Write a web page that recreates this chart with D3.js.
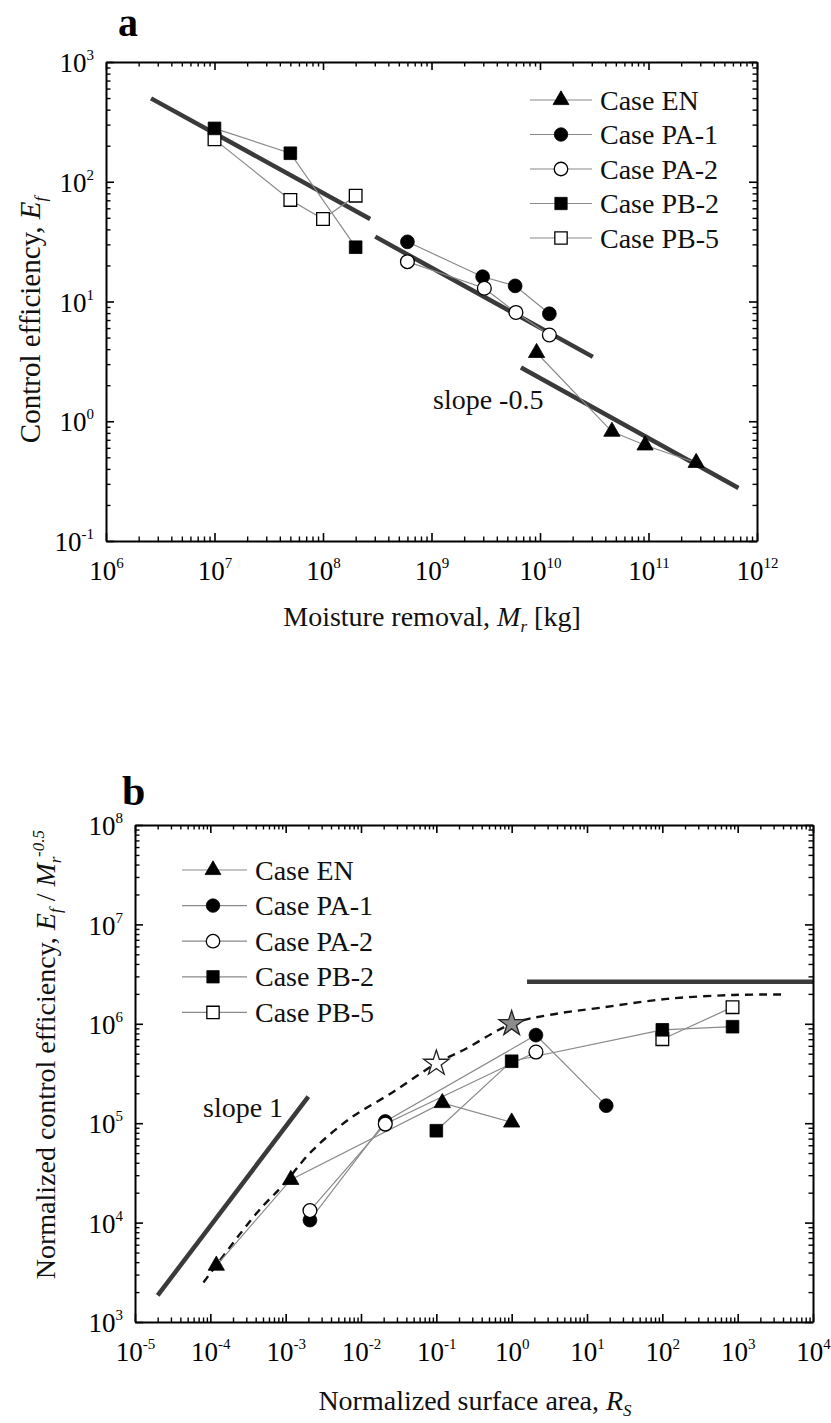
<!DOCTYPE html>
<html><head><meta charset="utf-8">
<script src="https://cdn.jsdelivr.net/npm/d3@7"></script>
<style>body{margin:0;background:#fff}</style>
</head><body>
<svg id="c" width="831" height="1423"></svg>
<script>
// ---------------- DATA ----------------
// Panel a: Control efficiency vs moisture removal
const aXExp = [6, 7, 8, 9, 10, 11, 12];
const aYExp = [-1, 0, 1, 2, 3];
const aEN_x  = [9.3e9, 4.6e10, 9.3e10, 2.75e11];
const aEN_y  = [3.73, 0.82, 0.63, 0.45];
const aPA1_x = [6.0e8, 2.96e9, 5.9e9, 1.22e10];
const aPA1_y = [31.5, 16.1, 13.5, 7.9];
const aPA2_x = [6.0e8, 3.07e9, 6.0e9, 1.22e10];
const aPA2_y = [21.5, 12.9, 8.1, 5.25];
const aPB2_x = [1e7, 5e7, 2e8];
const aPB2_y = [279, 173, 28.4];
const aPB5_x = [1e7, 5e7, 1e8, 2e8];
const aPB5_y = [226, 70.5, 48.9, 76.5];
const aFit1 = [[2.6e6, 497], [2.72e8, 48.9]];
const aFit2 = [[3.03e8, 34.8], [3.07e10, 3.45]];
const aFit3 = [[6.67e9, 2.81], [6.75e11, 0.277]];

// Panel b: Normalized control efficiency vs normalized surface area
const bXExp = [-5, -4, -3, -2, -1, 0, 1, 2, 3, 4];
const bYExp = [3, 4, 5, 6, 7, 8];
const bEN_x  = [1.2e-4, 1.17e-3, 0.12, 1.0];
const bEN_y  = [3.7e3, 2.7e4, 1.6e5, 1.02e5];
const bPA1_x = [2.1e-3, 0.021, 2.1, 18];
const bPA1_y = [1.06e4, 1.04e5, 7.7e5, 1.5e5];
const bPA2_x = [2.1e-3, 0.021, 2.1];
const bPA2_y = [1.32e4, 9.8e4, 5.2e5];
const bPB2_x = [0.1, 1.0, 100, 855];
const bPB2_y = [8.4e4, 4.2e5, 8.7e5, 9.35e5];
const bPB5_x = [100, 855];
const bPB5_y = [7.0e5, 1.47e6];
const bStarOpen = [0.1, 4.0e5];
const bStarGray = [1.0, 1.0e6];
const bSlope1 = [[2e-5, 1.85e3], [2e-3, 1.85e5]];
const bPlateau = [[1.6, 2.65e6], [1e4, 2.65e6]];
const bDash_x = [8.1e-5, 4.1e-4, 9.3e-4, 2.2e-3, 7.2e-3, 0.027, 0.1, 0.23, 1.0, 3.2, 15, 115, 880, 4500];
const bDash_y = [2.5e3, 1.24e4, 2.4e4, 5.2e4, 1.12e5, 2.07e5, 4.0e5, 5.45e5, 1.0e6, 1.23e6, 1.45e6, 1.78e6, 1.95e6, 1.97e6];

const seriesNames = ["Case EN", "Case PA-1", "Case PA-2", "Case PB-2", "Case PB-5"];

// ---------------- STYLE ----------------
const FONT = "'Liberation Serif','Times New Roman',serif";
const symType = [d3.symbolTriangle, d3.symbolCircle, d3.symbolCircle, d3.symbolSquare, d3.symbolSquare];
const symSize = [115, 150, 150, 160, 160];
const symFilled = [true, true, false, true, false];
const drawOrder = [0, 1, 2, 4, 3];
const LINE_GRAY = "#8a8a8a";
const FIT_COL = "#3a3a3a";

const svg = d3.select("#c");
svg.append("rect").attr("width", 831).attr("height", 1423).attr("fill", "#fff");

function zip(xs, ys) { return xs.map((v, i) => [v, ys[i]]); }
function minorTicks(lo, hi) {
  const t = [];
  for (let e = lo; e < hi; e++) for (let k = 2; k <= 9; k++) t.push(k * Math.pow(10, e));
  return t;
}
function supLabels(g) {
  g.selectAll(".tick text").each(function (d) {
    const e = Math.round(Math.log10(d));
    const t = d3.select(this);
    t.text(null);
    t.append("tspan").text("10");
    t.append("tspan").attr("font-size", 15).attr("dy", -12).text(String(e));
  });
}

function drawAxes(x, y, xExp, yExp) {
  const [x0, x1] = x.range();
  const [y0, y1] = y.range();
  const majX = xExp.map(e => Math.pow(10, e));
  const majY = yExp.map(e => Math.pow(10, e));
  const minX = minorTicks(xExp[0], xExp[xExp.length - 1]);
  const minY = minorTicks(yExp[0], yExp[yExp.length - 1]);
  const defs = [
    {f: d3.axisBottom, s: x, tr: `translate(0,${y0})`, maj: majX, min: minX, lab: true, isX: true},
    {f: d3.axisTop, s: x, tr: `translate(0,${y1})`, maj: majX, min: minX, lab: false},
    {f: d3.axisLeft, s: y, tr: `translate(${x0},0)`, maj: majY, min: minY, lab: true, isX: false},
    {f: d3.axisRight, s: y, tr: `translate(${x1},0)`, maj: majY, min: minY, lab: false}
  ];
  defs.forEach(d => {
    const gm = svg.append("g").attr("transform", d.tr)
      .call(d.f(d.s).tickValues(d.min).tickSizeInner(-4.5).tickSizeOuter(0).tickFormat(""));
    gm.select(".domain").remove();
    gm.selectAll(".tick line").attr("stroke", "#000").attr("stroke-width", 1.4);
    const g = svg.append("g").attr("transform", d.tr)
      .call(d.f(d.s).tickValues(d.maj).tickSizeInner(-8).tickSizeOuter(0)
        .tickFormat(d.lab ? (v => String(v)) : ""));
    g.attr("font-family", FONT).attr("font-size", 27);
    g.select(".domain").attr("stroke", "#000").attr("stroke-width", 2);
    g.selectAll(".tick line").attr("stroke", "#000").attr("stroke-width", 1.6);
    if (d.lab) {
      g.selectAll(".tick text").attr("fill", "#000");
      if (d.isX) g.selectAll(".tick text").attr("y", 39).attr("dy", null);
      else g.selectAll(".tick text").attr("x", -12).attr("dy", "0.36em");
      supLabels(g);
    }
  });
}

function drawSeries(x, y, data) {
  const line = d3.line().x(d => x(d[0])).y(d => y(d[1]));
  data.forEach(s => {
    svg.append("path").attr("d", line(s)).attr("fill", "none")
      .attr("stroke", LINE_GRAY).attr("stroke-width", 1.2);
  });
  drawOrder.forEach(i => {
    svg.append("g").selectAll("path").data(data[i]).join("path")
      .attr("transform", d => `translate(${x(d[0])},${y(d[1])})`)
      .attr("d", d3.symbol().type(symType[i]).size(symSize[i]))
      .attr("fill", symFilled[i] ? "#000" : "#fff")
      .attr("stroke", "#000").attr("stroke-width", symFilled[i] ? 0.8 : 1.3);
  });
}

function drawFit(x, y, seg, w) {
  svg.append("line")
    .attr("x1", x(seg[0][0])).attr("y1", y(seg[0][1]))
    .attr("x2", x(seg[1][0])).attr("y2", y(seg[1][1]))
    .attr("stroke", FIT_COL).attr("stroke-width", w || 4.5).attr("stroke-linecap", "butt");
}

function drawLegend(lx0, lx1, mx, tx, y0, dy) {
  seriesNames.forEach((name, i) => {
    const yy = y0 + i * dy;
    svg.append("line").attr("x1", lx0).attr("x2", lx1).attr("y1", yy).attr("y2", yy)
      .attr("stroke", LINE_GRAY).attr("stroke-width", 1.2);
    svg.append("path").attr("transform", `translate(${mx},${yy})`)
      .attr("d", d3.symbol().type(symType[i]).size(symSize[i] * 0.95))
      .attr("fill", symFilled[i] ? "#000" : "#fff")
      .attr("stroke", "#000").attr("stroke-width", symFilled[i] ? 0.8 : 1.3);
    svg.append("text").attr("x", tx).attr("y", yy + 9.5)
      .attr("font-family", FONT).attr("font-size", 28).attr("fill", "#111").text(name);
  });
}

// ---------------- PANEL A ----------------
const xA = d3.scaleLog().domain([1e6, 1e12]).range([106, 757]);
const yA = d3.scaleLog().domain([0.1, 1000]).range([541, 62]);

[aFit1, aFit2, aFit3].forEach(s => drawFit(xA, yA, s));
drawSeries(xA, yA, [zip(aEN_x, aEN_y), zip(aPA1_x, aPA1_y), zip(aPA2_x, aPA2_y), zip(aPB2_x, aPB2_y), zip(aPB5_x, aPB5_y)]);
drawAxes(xA, yA, aXExp, aYExp);
drawLegend(530, 592, 561, 600, 100, 34.5);

svg.append("text").attr("x", 118).attr("y", 36).attr("font-family", FONT)
  .attr("font-weight", "bold").attr("font-size", 40).text("a");
svg.append("text").attr("x", 433).attr("y", 409).attr("font-family", FONT)
  .attr("font-size", 28).attr("fill", "#111").text("slope -0.5");

{
  const t = svg.append("text").attr("x", 432).attr("y", 626).attr("text-anchor", "middle")
    .attr("font-family", FONT).attr("font-size", 28).attr("fill", "#111");
  t.append("tspan").text("Moisture removal, ");
  t.append("tspan").attr("font-style", "italic").text("M");
  t.append("tspan").attr("font-style", "italic").attr("font-size", 17).attr("dy", 6).text("r");
  t.append("tspan").attr("dy", -6).text(" [kg]");
  const ty = svg.append("text").attr("transform", "translate(40,320) rotate(-90)")
    .attr("text-anchor", "middle").attr("font-family", FONT).attr("font-size", 29).attr("fill", "#111");
  ty.append("tspan").text("Control efficiency, ");
  ty.append("tspan").attr("font-style", "italic").text("E");
  ty.append("tspan").attr("font-style", "italic").attr("font-size", 17).attr("dy", 6).text("f");
}

// ---------------- PANEL B ----------------
const xB = d3.scaleLog().domain([1e-5, 1e4]).range([135, 813]);
const yB = d3.scaleLog().domain([1e3, 1e8]).range([1322, 825]);

drawFit(xB, yB, bSlope1);
drawFit(xB, yB, bPlateau);
svg.append("path")
  .attr("d", d3.line().curve(d3.curveCatmullRom.alpha(0.5)).x(d => xB(d[0])).y(d => yB(d[1]))(zip(bDash_x, bDash_y)))
  .attr("fill", "none").attr("stroke", "#111").attr("stroke-width", 2.4).attr("stroke-dasharray", "8,6");
drawSeries(xB, yB, [zip(bEN_x, bEN_y), zip(bPA1_x, bPA1_y), zip(bPA2_x, bPA2_y), zip(bPB2_x, bPB2_y), zip(bPB5_x, bPB5_y)]);
[[bStarOpen, "#fff"], [bStarGray, "#8c8c8c"]].forEach(([p, fill]) => {
  svg.append("path").attr("transform", `translate(${xB(p[0])},${yB(p[1])})`)
    .attr("d", d3.symbol().type(d3.symbolStar).size(200))
    .attr("fill", fill).attr("stroke", "#222").attr("stroke-width", 1.3);
});
drawAxes(xB, yB, bXExp, bYExp);
drawLegend(182, 247, 213, 255, 870, 35.6);

svg.append("text").attr("x", 122).attr("y", 805).attr("font-family", FONT)
  .attr("font-weight", "bold").attr("font-size", 42).text("b");
svg.append("text").attr("x", 203).attr("y", 1117).attr("font-family", FONT)
  .attr("font-size", 28).attr("fill", "#111").text("slope 1");

{
  const t = svg.append("text").attr("x", 475).attr("y", 1410).attr("text-anchor", "middle")
    .attr("font-family", FONT).attr("font-size", 28).attr("fill", "#111");
  t.append("tspan").text("Normalized surface area, ");
  t.append("tspan").attr("font-style", "italic").text("R");
  t.append("tspan").attr("font-style", "italic").attr("font-size", 17).attr("dy", 6).text("S");
  const ty = svg.append("text").attr("transform", "translate(55,830) rotate(-90)")
    .attr("text-anchor", "end").attr("font-family", FONT).attr("font-size", 28).attr("fill", "#111");
  ty.append("tspan").text("Normalized control efficiency, ");
  ty.append("tspan").attr("font-style", "italic").text("E");
  ty.append("tspan").attr("font-style", "italic").attr("font-size", 17).attr("dy", 6).text("f");
  ty.append("tspan").attr("dy", -6).text(" / ");
  ty.append("tspan").attr("font-style", "italic").text("M");
  ty.append("tspan").attr("font-style", "italic").attr("font-size", 17).attr("dy", 6).text("r");
  ty.append("tspan").attr("font-style", "italic").attr("font-size", 17).attr("dy", -17).text("-0.5");
}
</script>
</body></html>
